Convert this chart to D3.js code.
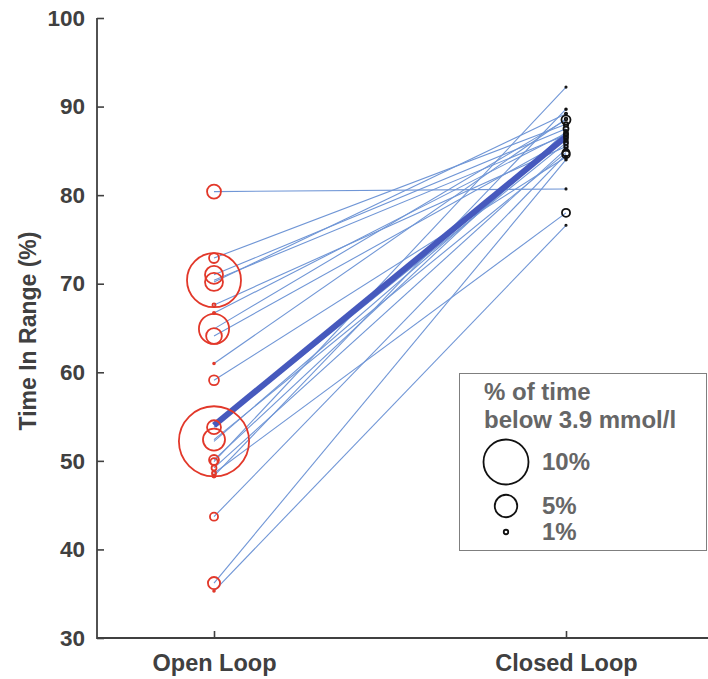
<!DOCTYPE html>
<html>
<head>
<meta charset="utf-8">
<script src="https://cdn.jsdelivr.net/npm/d3@7"></script>
<style>
  body { margin: 0; background: #fff; }
  text { font-family: "Liberation Sans", Arial, sans-serif; font-weight: bold; }
</style>
</head>
<body>
<script>
// width and height for svg
var w = 708;
var h = 679;

// categories on the x axis
var phases = ["Open Loop", "Closed Loop"];

// time in range (%) per participant, open loop then closed loop
var openTIR = [80.4, 72.9, 71.0, 70.4, 70.2, 67.6, 66.7, 64.9, 64.1, 61.0, 59.1,
               53.8, 52.4, 52.2, 50.1, 49.9, 49.2, 48.6, 48.3, 43.7, 36.2, 35.3];
var closedTIR = [80.7, 88.0, 87.5, 86.8, 89.2, 85.5, 87.0, 88.5, 86.2, 88.6, 84.3,
                 85.9, 84.8, 86.5, 87.2, 92.2, 85.2, 78.0, 89.7, 84.6, 84.0, 76.6];

// % of time below 3.9 mmol/l per participant (circle size)
var openLow = [3.1, 2.2, 4.0, 12.0, 4.0, 0.7, 0.5, 6.7, 3.5, 0.4, 2.2,
               3.1, 4.9, 15.6, 2.2, 1.6, 1.1, 0.9, 0.7, 1.8, 2.7, 0.4];
var closedLow = [0.3, 1.0, 1.1, 0.9, 0.5, 0.8, 0.9, 2.0, 0.8, 0.6, 0.5,
                 0.9, 1.6, 0.9, 0.7, 0.3, 0.7, 1.8, 0.4, 1.7, 0.4, 0.3];

// group line (thick)
var meanTIR = [54.0, 86.6];

// axis ticks and legend entries
var yTicks = [30, 40, 50, 60, 70, 80, 90, 100];
var legendSizes = [10, 5, 1];
var legendTitle = ["% of time", "below 3.9 mmol/l"];

var axisColor = "#404040";

var svg = d3.select("body")
            .append("svg")
            .attr("width", w)
            .attr("height", h);

var yScale = d3.scaleLinear().domain([30, 100]).range([638, 18]);
var xScale = d3.scalePoint().domain(phases).range([214, 566]);

// radius proportional to percentage
var rScale = d3.scaleLinear().domain([0, 10]).range([0, 22.5]);

// participant lines
var pairs = openTIR.map(function(d, i) {
  return {open: d, closed: closedTIR[i], openLow: openLow[i], closedLow: closedLow[i]};
});

svg.selectAll(".pair")
   .data(pairs)
   .enter()
   .append("line")
   .attr("class", "pair")
   .attr("x1", xScale(phases[0]))
   .attr("x2", xScale(phases[1]))
   .attr("y1", d => yScale(d.open))
   .attr("y2", d => yScale(d.closed))
   .attr("stroke", "#7096d6")
   .attr("stroke-width", 1.1);

// thick group line
svg.append("line")
   .attr("x1", xScale(phases[0]))
   .attr("x2", xScale(phases[1]))
   .attr("y1", yScale(meanTIR[0]))
   .attr("y2", yScale(meanTIR[1]))
   .attr("stroke", "#4659bd")
   .attr("stroke-width", 6);

// open loop circles
svg.selectAll(".openc")
   .data(pairs)
   .enter()
   .append("circle")
   .attr("class", "openc")
   .attr("cx", xScale(phases[0]))
   .attr("cy", d => yScale(d.open))
   .attr("r", d => rScale(d.openLow))
   .attr("fill", "none")
   .attr("stroke", "#e2382a")
   .attr("stroke-width", 1.8);

// closed loop circles
svg.selectAll(".closedc")
   .data(pairs)
   .enter()
   .append("circle")
   .attr("class", "closedc")
   .attr("cx", xScale(phases[1]))
   .attr("cy", d => yScale(d.closed))
   .attr("r", d => rScale(d.closedLow))
   .attr("fill", "none")
   .attr("stroke", "#111")
   .attr("stroke-width", 1.8);

// y axis
var yAxis = svg.append("g")
   .attr("transform", "translate(97,0)")
   .call(d3.axisLeft(yScale).tickValues(yTicks).tickSizeInner(-7).tickSizeOuter(0).tickPadding(12));

// x axis
var xAxis = svg.append("g")
   .attr("transform", "translate(0,638)")
   .call(d3.axisBottom(xScale).tickSizeInner(-7).tickSizeOuter(0).tickPadding(16));

[yAxis, xAxis].forEach(function(g) {
  g.select(".domain").remove();
  g.selectAll("line").attr("stroke", axisColor).attr("stroke-width", 1.6);
  g.selectAll("text").attr("fill", axisColor).style("font-size", "22.5px");
});
xAxis.selectAll("text").style("font-size", "23.5px");

// axis lines
svg.append("path")
   .attr("d", "M97,18V638H708")
   .attr("fill", "none")
   .attr("stroke", axisColor)
   .attr("stroke-width", 1.8);

// y label
svg.append("text")
   .attr("transform", "translate(36,331) rotate(-90)")
   .attr("text-anchor", "middle")
   .attr("fill", axisColor)
   .style("font-size", "23px")
   .text("Time In Range (%)");

// legend
var legend = svg.append("g");

legend.append("rect")
      .attr("x", 459.5)
      .attr("y", 373.5)
      .attr("width", 247)
      .attr("height", 177)
      .attr("fill", "#fff")
      .attr("stroke", "#7f7f7f")
      .attr("stroke-width", 1);

legend.selectAll(".ltitle")
      .data(legendTitle)
      .enter()
      .append("text")
      .attr("x", 484)
      .attr("y", (d, i) => 400 + i * 28)
      .attr("fill", "#666")
      .style("font-size", "24px")
      .text(d => d);

var legendY = [462, 506, 532];
var legendItems = legend.selectAll(".litem")
      .data(legendSizes)
      .enter()
      .append("g")
      .attr("transform", (d, i) => "translate(506," + legendY[i] + ")");

legendItems.append("circle")
      .attr("r", d => rScale(d))
      .attr("fill", "none")
      .attr("stroke", "#111")
      .attr("stroke-width", 1.8);

legendItems.append("text")
      .attr("x", 36)
      .attr("y", 8)
      .attr("fill", "#666")
      .style("font-size", "24px")
      .text(d => d + "%");
</script>
</body>
</html>
